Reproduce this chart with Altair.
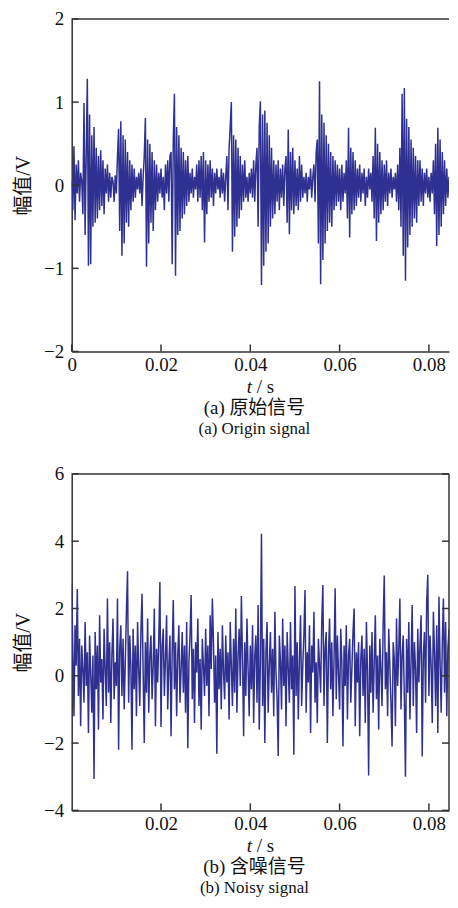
import altair as alt
import pandas as pd

# ---------------- data ----------------
DT = 0.00025          # sample spacing in seconds
XMAX = 0.0845

origin_signal = [
    0.05, -0.3, 0.47, -0.42, 0.25, -0.1, 0.3, -0.2, 0.15, 0.05, -0.35, 0.99, -0.6, 0.4, 1.28, -0.97, 0.85, -0.95, 0.6, -0.5,
    0.7, -0.45, 0.45, -0.4, 0.35, -0.3, 0.42, -0.25, 0.3, -0.35, 0.2, -0.1, 0.25, -0.2, 0.15, -0.15, 0.1, 0.05, -0.2, 0.12,
    -0.1, 0.35, 0.68, -0.55, 0.77, -0.85, 0.6, -0.7, 0.55, -0.45, 0.4, -0.5, 0.3, -0.3, 0.25, -0.2, 0.2, -0.15, 0.1, -0.05,
    0.15, -0.1, 0.2, -0.25, 0.1, 0.35, 0.81, -0.98, 0.55, -0.7, 0.5, -0.45, 0.4, -0.55, 0.3, -0.3, 0.25, -0.2, 0.15, -0.1,
    0.2, -0.15, 0.1, -0.3, 0.25, -0.1, 0.3, -0.2, 0.35, 0.4, -0.95, 0.55, 1.1, -1.09, 0.7, -0.6, 0.6, -0.55, 0.45, -0.4,
    0.4, -0.35, 0.3, -0.25, 0.35, -0.2, 0.15, -0.1, 0.2, -0.15, 0.1, -0.05, 0.25, -0.2, 0.3, -0.15, 0.35, -0.3, 0.4, -0.69,
    0.3, -0.35, 0.25, -0.2, 0.3, -0.15, 0.2, -0.25, 0.15, -0.1, 0.2, -0.05, 0.1, -0.15, 0.2, -0.1, 0.15, -0.2, 0.1, 0.35,
    -0.3, 0.45, 0.7, 1.0, -0.8, 0.6, -0.62, 0.55, -0.5, 0.45, -0.4, 0.35, -0.3, 0.25, -0.2, 0.3, -0.15, 0.1, -0.2, 0.15,
    -0.1, 0.2, -0.15, 0.3, -0.2, 0.25, 0.45, -0.5, 0.7, 1.01, -1.2, 0.85, -0.97, 0.9, -0.8, 0.75, -0.7, 0.6, -0.5, 0.45,
    -0.4, 0.3, -0.35, 0.25, -0.2, 0.3, -0.3, 0.2, -0.15, 0.25, -0.25, 0.2, 0.35, -0.45, 0.67, -0.59, 0.4, -0.3, 0.45, -0.35,
    0.3, -0.25, 0.2, -0.3, 0.35, -0.2, 0.25, -0.15, 0.1, -0.1, 0.15, -0.2, 0.1, -0.05, 0.2, -0.15, 0.1, 0.25, -0.2, 0.4,
    0.55, -0.7, 1.25, -1.19, 0.85, -0.9, 0.75, -0.7, 0.6, -0.55, 0.5, -0.45, 0.4, -0.5, 0.35, -0.3, 0.3, -0.25, 0.25, -0.2,
    0.2, -0.3, 0.25, -0.2, 0.15, -0.1, 0.3, -0.4, 0.69, -0.63, 0.45, -0.35, 0.4, -0.3, 0.3, -0.25, 0.2, -0.15, 0.25, -0.2,
    0.15, -0.1, 0.2, -0.25, 0.1, -0.15, 0.2, -0.05, 0.15, -0.2, 0.35, -0.4, 0.69, -0.67, 0.5, -0.45, 0.4, -0.35, 0.3, -0.3,
    0.25, -0.2, 0.3, -0.25, 0.15, -0.1, 0.2, -0.15, 0.1, -0.05, 0.15, -0.2, 0.25, -0.3, 0.45, -0.5, 1.1, -0.85, 1.17, -1.15,
    0.8, -0.75, 0.7, -0.6, 0.55, -0.5, 0.45, -0.4, 0.35, -0.45, 0.3, -0.25, 0.3, -0.2, 0.2, -0.25, 0.15, -0.1, 0.2, -0.15,
    0.1, -0.2, 0.15, -0.1, 0.3, -0.35, 0.5, -0.73, 0.69, -0.6, 0.55, -0.5, 0.4, -0.35, 0.3, -0.25, 0.2, -0.15, 0.1, -0.1,
    0.12,
]

noisy_signal = [
    2.75, 0.8, -1.2, 1.5, 0.3, 2.58, -0.6, 1.1, -1.5, 0.9, 0.2, -0.8, 1.6, -0.3, 0.7, -1.7, 1.2, 0.1, -1.1, 0.6,
    -3.07, 1.3, -0.4, 0.9, -1.6, 1.8, -0.2, 0.5, -1.3, 1.4, 0.2, -0.9, 2.3, -0.5, 1.0, -1.4, 0.6, 1.7, -0.7, 0.4,
    -0.3, 2.3, -2.2, 0.8, 1.5, -0.6, 1.1, -1.0, 0.4, 1.9, 3.11, -0.8, 1.2, 0.3, -2.2, 1.4, -0.4, 0.9, -1.2, 1.6,
    0.2, -0.9, 1.3, 2.44, 0.1, -2.0, 1.0, -0.5, 1.7, -1.1, 0.6, 1.2, -0.7, 0.3, 2.0, -1.5, 0.8, -0.2, 1.1, 2.79,
    -1.52, 0.9, 1.4, -0.6, 0.5, 1.8, -1.0, 0.3, 1.2, -1.8, 0.7, 2.25, -0.4, 1.0, -1.2, 0.6, 1.5, -0.8, 0.2, 1.3,
    -0.5, 0.9, -1.1, 1.6, -2.15, 0.4, 1.2, 2.4, -0.7, 0.8, -1.4, 1.0, 0.1, 1.7, -0.9, 0.5, -1.6, 1.1, 0.3, -0.6,
    1.4, -0.3, 0.9, -1.2, 1.8, 0.2, 2.3, 1.0, -0.8, 0.6, -2.32, 1.3, -0.4, 0.8, -1.0, 1.5, 0.1, -0.7, 1.2, -0.2,
    0.7, -1.3, 1.6, 0.3, -0.9, 1.1, -0.5, 2.0, -1.1, 0.6, 1.4, -0.3, 2.37, 0.5, -1.8, 1.0, -0.6, 1.7, 0.2, -1.2,
    0.9, -0.4, 1.5, -1.4, 0.6, 1.2, -0.8, 2.1, -1.6, 0.4, 4.22, -0.9, 1.1, -2.0, 0.7, 1.6, -1.1, 0.3, 1.3, -0.5,
    0.8, -1.2, 1.9, 0.1, -0.7, -2.38, 1.2, 0.4, -1.0, 1.7, -0.3, 0.9, -1.5, 1.3, 0.2, -0.8, 1.6, -0.4, 0.6, -2.35,
    2.67, -0.6, 1.0, -1.3, 0.5, 1.8, -0.9, 0.3, 1.2, 2.55, -1.1, 0.7, -0.2, 1.5, -1.7, 0.9, 0.1, 1.9, -0.8, 0.4,
    -1.4, 1.1, 0.3, -0.5, 1.6, 2.7, -0.9, 0.8, 1.3, -2.0, 0.6, 1.7, -0.4, 1.0, -1.2, 0.5, 2.6, -0.7, 1.2, 0.1,
    -1.0, 1.4, 0.4, -2.1, 0.9, -0.3, 1.5, -1.3, 0.6, 1.1, -0.8, 0.2, 1.3, 2.0, -1.5, 0.7, -0.2, 1.0, -1.8, 0.5,
    1.2, -0.6, 0.8, -1.4, 1.6, 0.1, -2.96, 0.9, -0.5, 1.3, -1.1, 0.4, 1.8, -0.7, 0.6, -1.6, 1.1, 0.2, -0.9, 1.5,
    2.98, -0.4, 0.7, -1.2, 1.4, 0.3, -0.8, -2.1, 1.0, 0.5, -1.5, 1.7, -0.3, 0.8, 2.3, -1.0, 0.6, 1.2, -0.7, -3.0,
    1.1, -0.5, 1.6, -1.3, 0.4, 2.1, -0.9, 1.0, 0.2, -1.7, 1.4, -0.2, 0.9, 1.8, -2.4, 0.6, 1.3, -0.8, 2.2, 3.0,
    -0.6, 1.2, 0.3, -1.4, 1.9, 0.7, -0.9, 1.5, -1.7, 2.35, 0.4, -1.1, 1.0, 2.3, -0.5, 1.6, -1.2, 0.8, 1.4, -0.3,
    0.9,
]

top_x_ticks = [0, 0.02, 0.04, 0.06, 0.08]
bottom_x_ticks = [0.02, 0.04, 0.06, 0.08]
top_y_ticks = [-2, -1, 0, 1, 2]
bottom_y_ticks = [-4, -2, 0, 2, 4, 6]

y_title = "幅值/V"
x_title_var = "t"
x_title_unit = "/ s"
caption_a_cn = "(a) 原始信号"
caption_a_en = "(a) Origin signal"
caption_b_cn = "(b) 含噪信号"
caption_b_en = "(b) Noisy signal"

# ---------------- styling ----------------
LINE_COLOR = "#2e3192"
AXIS_COLOR = "#333333"
TEXT_COLOR = "#111111"
SERIF = "Liberation Serif, Times New Roman, serif"
MIXED = "Liberation Serif, Noto Sans CJK SC, serif"
W = 379


def panel(values, ydom, yticks, xticks, H, cap_cn, cap_en, right_border, unit_dy):
    df = pd.DataFrame({"t": [round(i * DT, 6) for i in range(len(values))], "v": values})
    xs = alt.Scale(domain=[0, XMAX], nice=False, zero=False)
    ys = alt.Scale(domain=ydom, nice=False, zero=False)
    xaxis = alt.Axis(values=xticks, format=".2~f", title=None, ticks=False, grid=False,
                     labelPadding=4, labelFont=SERIF, labelFontSize=19, labelColor=TEXT_COLOR,
                     labelFlush=False, domainColor=AXIS_COLOR, domainWidth=1.5)
    yaxis = alt.Axis(values=yticks, format="d", title=y_title, ticks=False, grid=False,
                     labelPadding=8, labelFont=SERIF, labelFontSize=19, labelColor=TEXT_COLOR,
                     titleFont=MIXED, titleFontSize=20, titleFontWeight="normal",
                     titleColor=TEXT_COLOR, titlePadding=10,
                     domainColor=AXIS_COLOR, domainWidth=1.5)

    line = alt.Chart(df).mark_line(color=LINE_COLOR, strokeWidth=1.5, clip=True).encode(
        x=alt.X("t:Q", scale=xs, axis=xaxis),
        y=alt.Y("v:Q", scale=ys, axis=yaxis),
    )
    xt = alt.Chart(pd.DataFrame({"t": xticks})).mark_rule(color=AXIS_COLOR, strokeWidth=1.5).encode(
        x=alt.X("t:Q", scale=xs, axis=xaxis), y=alt.value(H), y2=alt.value(H - 7))
    yt = alt.Chart(pd.DataFrame({"v": yticks})).mark_rule(color=AXIS_COLOR, strokeWidth=1.5).encode(
        y=alt.Y("v:Q", scale=ys, axis=yaxis), x=alt.value(0), x2=alt.value(7))
    one = pd.DataFrame({"a": [0]})
    top_border = alt.Chart(one).mark_rule(color=AXIS_COLOR, strokeWidth=1.5).encode(
        x=alt.value(0), x2=alt.value(W), y=alt.value(0))
    layers = [line, xt, yt, top_border]
    if right_border:
        layers.append(alt.Chart(one).mark_rule(color=AXIS_COLOR, strokeWidth=1.5).encode(
            x=alt.value(W), y=alt.value(0), y2=alt.value(H)))
        layers.append(alt.Chart(pd.DataFrame({"v": yticks})).mark_rule(color=AXIS_COLOR, strokeWidth=1.5).encode(
            y=alt.Y("v:Q", scale=ys, axis=yaxis), x=alt.value(W - 7), x2=alt.value(W)))
    tvar = alt.Chart(pd.DataFrame({"s": [x_title_var]})).mark_text(
        font=SERIF, fontSize=19, fontStyle="italic", align="right", baseline="alphabetic",
        color=TEXT_COLOR).encode(text="s:N", x=alt.value(181), y=alt.value(H + unit_dy))
    tunit = alt.Chart(pd.DataFrame({"s": [x_title_unit]})).mark_text(
        font=SERIF, fontSize=19, align="left", baseline="alphabetic",
        color=TEXT_COLOR).encode(text="s:N", x=alt.value(186), y=alt.value(H + unit_dy))
    layers += [tvar, tunit]
    return alt.layer(*layers).properties(
        width=W, height=H,
        title=alt.TitleParams(text=cap_cn, subtitle=cap_en, orient="bottom", anchor="middle",
                              font=MIXED, fontSize=19, fontWeight="normal", color=TEXT_COLOR,
                              subtitleFont=SERIF, subtitleFontSize=17, subtitleColor=TEXT_COLOR,
                              subtitlePadding=3, offset=2, dx=-6),
    )


top = panel(origin_signal, [-2, 2], top_y_ticks, top_x_ticks, 334, caption_a_cn, caption_a_en, False, 42)
bottom = panel(noisy_signal, [-4, 6], bottom_y_ticks, bottom_x_ticks, 338, caption_b_cn, caption_b_en, True, 42)

chart = alt.vconcat(top, bottom, spacing=28).properties(
    padding={"left": 5, "top": 0, "right": 0, "bottom": 0}
).configure_view(stroke=None).configure_axis(grid=False)

chart.save("out.html", embed_options={"renderer": "svg", "actions": False})
